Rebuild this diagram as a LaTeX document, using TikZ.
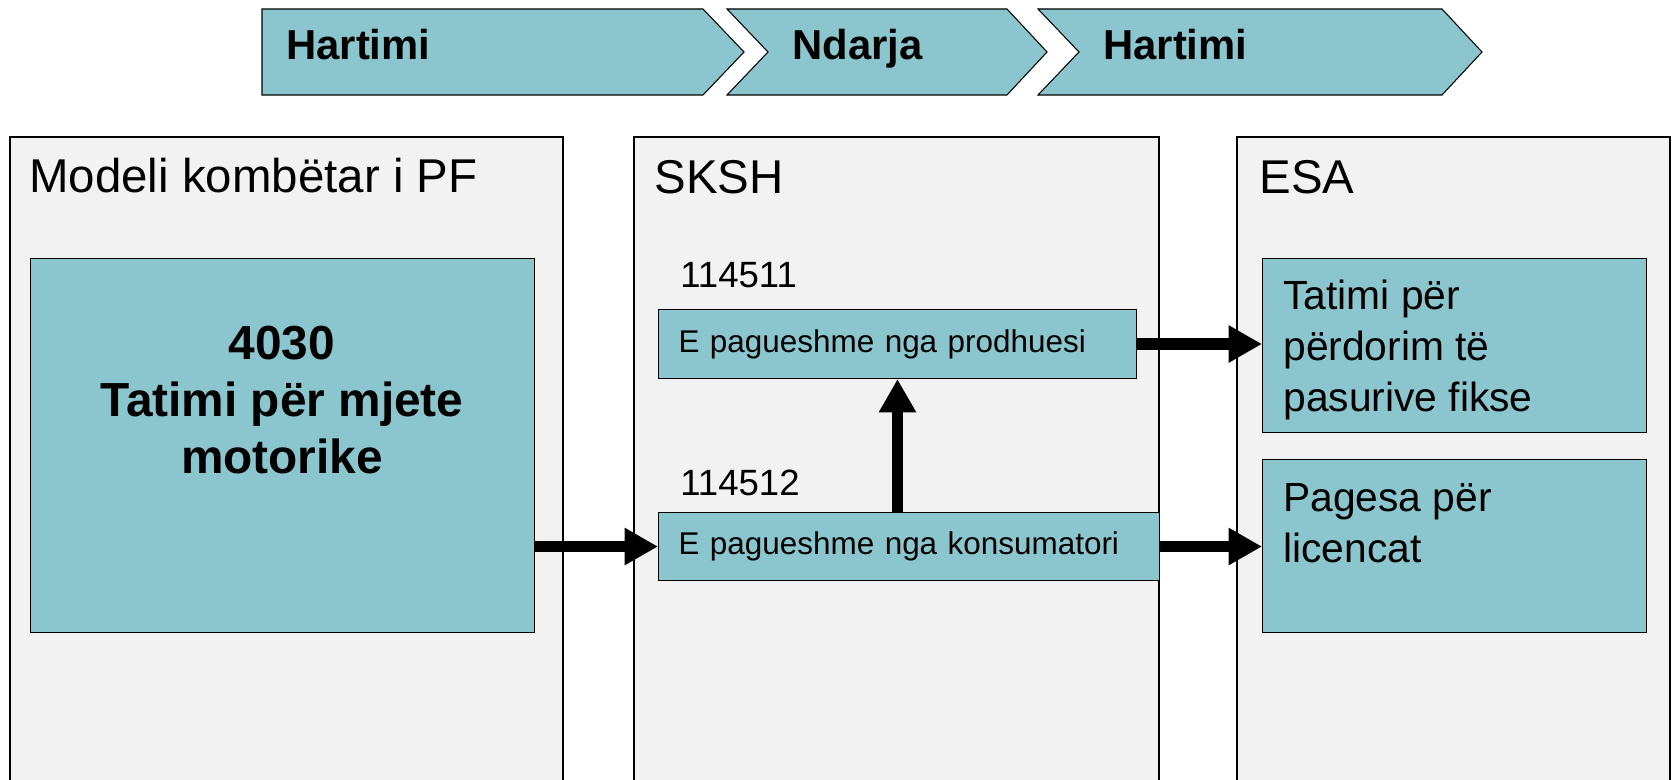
\documentclass[tikz,border=0pt]{standalone}
\usepackage{fontspec}
\setmainfont{Liberation Sans}
\usepackage{tikz}
\usetikzlibrary{arrows.meta, positioning}
\definecolor{boxteal}{RGB}{139, 198, 206}
\definecolor{panelgray}{RGB}{242, 242, 242}

\begin{document}
\begin{tikzpicture}[x=0.02cm, y=-0.02cm,
        panel/.style={draw=black, fill=panelgray, line width=0.6pt},
        cell/.style={draw=black, fill=boxteal, line width=0.6pt, anchor=north west, inner sep=0pt},
        fatarrow/.style={line width=6.5pt, -{Triangle[length=19pt, width=20pt]}}]
        \useasboundingbox (0,0) rectangle (1673,780);
        \clip (0,0) rectangle (1673,780);
        \fill[white] (0,0) rectangle (1673,780);

        % chevrons
        \draw[fill=boxteal, line width=0.6pt] (262,9) -- (703,9) -- (744,52) -- (703,95) -- (262,95) -- cycle;
        \draw[fill=boxteal, line width=0.6pt] (727,9) -- (1007,9) -- (1047,52) -- (1007,95) -- (727,95) -- (768,52) -- cycle;
        \draw[fill=boxteal, line width=0.6pt] (1038,9) -- (1442,9) -- (1482,52) -- (1442,95) -- (1038,95) -- (1079,52) -- cycle;
        \node[anchor=base west, inner sep=0pt, font=\fontsize{23.8}{28}\selectfont\bfseries] (step1) at (286,60) {Hartimi};
        \node[anchor=base west, inner sep=0pt, font=\fontsize{23.8}{28}\selectfont\bfseries] (step2) at (792,60) {Ndarja};
        \node[anchor=base west, inner sep=0pt, font=\fontsize{23.8}{28}\selectfont\bfseries] (step3) at (1103,60) {Hartimi};

        % panels
        \draw[panel] (10,137) rectangle (563,800);
        \draw[panel] (634,137) rectangle (1159,800);
        \draw[panel] (1237,137) rectangle (1670,800);
        \node[anchor=base west, inner sep=0pt, font=\fontsize{27}{32}\selectfont] (pftitle) at (29,193) {Modeli kombëtar i PF};
        \node[anchor=base west, inner sep=0pt, font=\fontsize{27}{32}\selectfont] (skshtitle) at (654,194) {SKSH};
        \node[anchor=base west, inner sep=0pt, font=\fontsize{27}{32}\selectfont] (esatitle) at (1259,194) {ESA};

        % boxes
        \node[cell, minimum width=10.08cm, minimum height=7.48cm] (tax) at (30,258) {};
        \node[align=center, anchor=base, inner sep=0pt, font=\fontsize{27.2}{32.3}\selectfont\bfseries] (taxtext) at (282,473)
            {4030\\Tatimi për mjete\\motorike};

        \node[anchor=base west, inner sep=0pt, font=\fontsize{20.8}{25}\selectfont] (code1) at (680,288) {114511};
        \node[cell, minimum width=9.56cm, minimum height=1.38cm, inner xsep=0.4cm, text width=8.76cm, align=left,
            font=\fontsize{17.9}{21}\selectfont] (prod) at (658,309) {E pagueshme nga prodhuesi};
        \node[anchor=base west, inner sep=0pt, font=\fontsize{20.8}{25}\selectfont] (code2) at (680,495) {114512};
        \node[cell, minimum width=10.02cm, minimum height=1.36cm, inner xsep=0.4cm, text width=9.22cm, align=left,
            font=\fontsize{17.9}{21}\selectfont] (cons) at (658,512) {E pagueshme nga konsumatori};

        \node[cell, minimum width=7.68cm, minimum height=3.48cm] (fixed) at (1262,258) {};
        \node[align=left, anchor=base west, inner sep=0pt, font=\fontsize{23.2}{28.9}\selectfont] (fixedtext) at (1283,411)
            {Tatimi për\\përdorim të\\pasurive fikse};
        \node[cell, minimum width=7.68cm, minimum height=3.46cm] (lic) at (1262,459) {};
        \node[align=left, anchor=base west, inner sep=0pt, font=\fontsize{23.2}{28.9}\selectfont] (lictext) at (1283,562)
            {Pagesa për\\licencat};

        % arrows
        \draw[fatarrow] (tax.east |- cons.west) -- (cons.west);
        \draw[fatarrow] (prod.south |- cons.north) -- (prod.south);
        \draw[fatarrow] (prod.east) -- (fixed.west |- prod.east);
        \draw[fatarrow] (cons.east) -- (lic.west |- cons.east);

    \end{tikzpicture}
\end{document}
